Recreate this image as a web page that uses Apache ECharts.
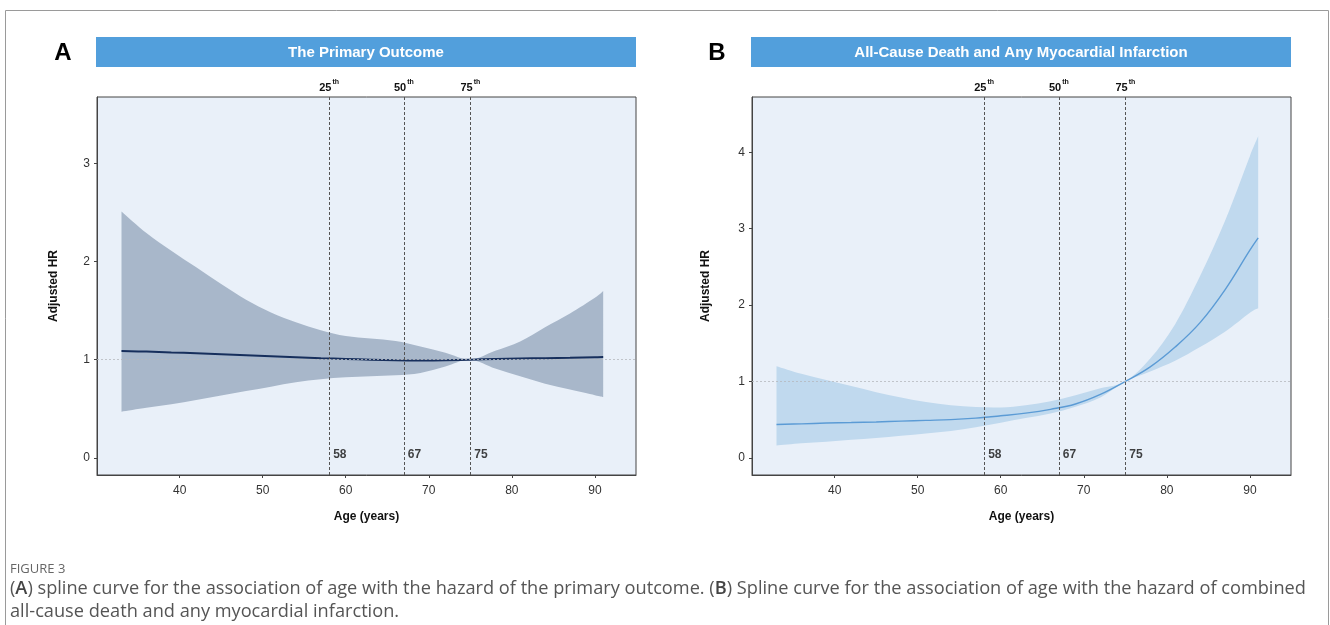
<!DOCTYPE html>
<html>
<head>
<meta charset="utf-8">
<script src="https://cdn.jsdelivr.net/npm/echarts@6/dist/echarts.min.js"></script>
<style>
html,body{margin:0;padding:0;background:#fff;}
#chart{width:1330px;height:625px;}
</style>
</head>
<body>
<div id="chart"></div>
<script>
// ---------- data ----------
const ages   = [33, 36, 39, 42, 45, 48, 51, 54, 57, 60, 63, 66, 69, 72, 75, 78, 81, 84, 87, 90, 91];
// Panel A: the primary outcome
const hrA    = [1.087, 1.082, 1.073, 1.065, 1.055, 1.045, 1.035, 1.025, 1.015, 1.007, 1.0, 0.994, 0.992, 0.994, 1.0, 1.006, 1.011, 1.015, 1.019, 1.024, 1.026];
const upperA = [2.51, 2.29, 2.11, 1.94, 1.77, 1.61, 1.48, 1.38, 1.30, 1.24, 1.215, 1.19, 1.135, 1.07, 1.00, 1.09, 1.185, 1.33, 1.47, 1.63, 1.70];
const lowerA = [0.47, 0.51, 0.545, 0.59, 0.635, 0.68, 0.725, 0.77, 0.80, 0.82, 0.83, 0.84, 0.865, 0.93, 1.00, 0.91, 0.83, 0.755, 0.695, 0.638, 0.62];
// Panel B: all-cause death and any MI
const hrB    = [0.437, 0.445, 0.455, 0.462, 0.47, 0.48, 0.49, 0.50, 0.52, 0.55, 0.585, 0.635, 0.705, 0.83, 1.00, 1.19, 1.45, 1.77, 2.20, 2.72, 2.88];
const upperB = [1.20, 1.10, 1.02, 0.94, 0.86, 0.79, 0.73, 0.69, 0.665, 0.66, 0.69, 0.74, 0.82, 0.91, 1.00, 1.30, 1.75, 2.38, 3.10, 3.95, 4.21];
const lowerB = [0.16, 0.19, 0.21, 0.235, 0.26, 0.29, 0.32, 0.35, 0.40, 0.46, 0.52, 0.58, 0.67, 0.79, 1.00, 1.13, 1.27, 1.45, 1.65, 1.90, 1.96];
// percentiles of age
const pctValues = [58, 67, 75];
const pctLabels = ['25', '50', '75'];
// ticks
const xTicks  = [40, 50, 60, 70, 80, 90];
const yTicksA = [0, 1, 2, 3];
const yTicksB = [0, 1, 2, 3, 4];
const titleA = 'The Primary Outcome';
const titleB = 'All-Cause Death and Any Myocardial Infarction';
const captionHead = 'FIGURE 3';

// ---------- chart ----------
const FONT = '"Liberation Sans", Arial, sans-serif';
const grids = [
  {left: 97, top: 97, width: 539, height: 378},
  {left: 752, top: 97, width: 539, height: 378}
];

function zip(xs, ys) { return xs.map((x, i) => [x, ys[i]]); }

function xAxis(i) {
  return {
    type: 'value', gridIndex: i, min: 30.05, max: 94.95,
    name: 'Age (years)', nameLocation: 'middle', nameGap: 36,
    nameTextStyle: {fontFamily: FONT, fontWeight: 'bold', fontSize: 12, color: '#111'},
    axisLine: {show: true, onZero: false, lineStyle: {color: '#444', width: 1}},
    axisTick: {show: true, length: 3, customValues: xTicks, lineStyle: {color: '#444'}},
    axisLabel: {customValues: xTicks, fontFamily: FONT, fontSize: 12, color: '#333', margin: 10},
    splitLine: {show: false}
  };
}
function yAxis(i, min, max, ticks, gap) {
  return {
    type: 'value', gridIndex: i, min: min, max: max,
    name: 'Adjusted HR', nameLocation: 'middle', nameGap: gap, nameRotate: 90,
    nameTextStyle: {fontFamily: FONT, fontWeight: 'bold', fontSize: 12, color: '#111'},
    axisLine: {show: true, onZero: false, lineStyle: {color: '#444', width: 1}},
    axisTick: {show: true, length: 3, customValues: ticks, lineStyle: {color: '#444'}},
    axisLabel: {customValues: ticks, fontFamily: FONT, fontSize: 12, color: '#333', margin: 7},
    splitLine: {show: false}
  };
}

// smooth path through pixel points (Catmull-Rom -> cubic Bezier)
function smoothSegs(pts, t) {
  let d = '';
  for (let i = 0; i < pts.length - 1; i++) {
    const p0 = pts[Math.max(i - 1, 0)], p1 = pts[i], p2 = pts[i + 1], p3 = pts[Math.min(i + 2, pts.length - 1)];
    const c1x = p1[0] + (p2[0] - p0[0]) * t / 6, c1y = p1[1] + (p2[1] - p0[1]) * t / 6;
    const c2x = p2[0] - (p3[0] - p1[0]) * t / 6, c2y = p2[1] - (p3[1] - p1[1]) * t / 6;
    d += ' C' + c1x + ',' + c1y + ' ' + c2x + ',' + c2y + ' ' + p2[0] + ',' + p2[1];
  }
  return d;
}

function bandSeries(i, lower, upper, color) {
  return {
    type: 'custom', xAxisIndex: i, yAxisIndex: i, silent: true, z: 1,
    clip: true,
    data: ages.map((a, k) => [a, lower[k], upper[k]]),
    renderItem: function (params, api) {
      if (params.dataIndex !== 0) return null;
      const up = ages.map((a, k) => api.coord([a, upper[k]]));
      const lo = ages.map((a, k) => api.coord([a, lower[k]])).reverse();
      let d = 'M' + up[0][0] + ',' + up[0][1] + smoothSegs(up, 1);
      d += ' L' + lo[0][0] + ',' + lo[0][1] + smoothSegs(lo, 1) + ' Z';
      return {type: 'path', shape: {pathData: d}, style: {fill: color, stroke: null}};
    }
  };
}

function panelSeries(i, lower, upper, hr, bandColor, lineColor, lineWidth) {
  const pctLines = pctValues.map((v, k) => ({
    xAxis: v,
    lineStyle: {type: [3, 2], color: '#555', width: 1},
    label: {
      show: true, position: 'end', distance: 4,
      formatter: '{n|' + pctLabels[k] + '}{s|th}',
      rich: {
        n: {fontFamily: FONT, fontSize: 11, fontWeight: 'bold', color: '#111', lineHeight: 14, verticalAlign: 'bottom'},
        s: {fontFamily: FONT, fontSize: 7, fontWeight: 'bold', color: '#111', lineHeight: 14, verticalAlign: 'top', padding: [0, 0, 0, 1]}
      }
    }
  }));
  return [
    bandSeries(i, lower, upper, bandColor),
    {
      type: 'line', xAxisIndex: i, yAxisIndex: i, smooth: 0.4,
      data: zip(ages, hr), symbol: 'none',
      lineStyle: {color: lineColor, width: lineWidth}, z: 3,
      markLine: {
        symbol: 'none', silent: true, animation: false,
        data: pctLines.concat([{
          yAxis: 1, lineStyle: {type: [2, 2], color: '#b5b9be', width: 0.8}, label: {show: false}
        }])
      }
    },
    {
      type: 'scatter', xAxisIndex: i, yAxisIndex: i, symbolSize: 0,
      data: pctValues.map(v => [v, 0]), silent: true, z: 4,
      label: {
        show: true, position: 'right', distance: 4, offset: [0, -3],
        formatter: p => String(p.value[0]),
        fontFamily: FONT, fontSize: 12, fontWeight: 'bold', color: '#111'
      }
    }
  ];
}

const chart = echarts.init(document.getElementById('chart'), null, {renderer: 'canvas'});
const option = {
  backgroundColor: '#ffffff',
  animation: false,
  grid: grids.map(g => Object.assign({
    show: true, backgroundColor: '#e9f0f9', borderColor: '#444', borderWidth: 1, containLabel: false
  }, g)),
  xAxis: [xAxis(0), xAxis(1)],
  yAxis: [yAxis(0, -0.175, 3.675, yTicksA, 37), yAxis(1, -0.225, 4.725, yTicksB, 40)],
  series: []
    .concat(panelSeries(0, lowerA, upperA, hrA, '#a8b7ca', '#172f5c', 2))
    .concat(panelSeries(1, lowerB, upperB, hrB, '#c0d9ee', '#5b9bd5', 1.4)),
  graphic: [
    {type: 'rect', silent: true, shape: {x: 5.5, y: 10.5, width: 1323, height: 700},
     style: {fill: null, stroke: '#9a9a9a', lineWidth: 1}},
    // title bars
    {type: 'rect', silent: true, shape: {x: 96, y: 37, width: 540, height: 30}, style: {fill: '#529fdc'}},
    {type: 'rect', silent: true, shape: {x: 751, y: 37, width: 540, height: 30}, style: {fill: '#529fdc'}},
    {type: 'text', silent: true, x: 366, y: 53, style: {text: titleA, fill: '#fff', font: 'bold 15px ' + FONT, textAlign: 'center', textVerticalAlign: 'middle'}},
    {type: 'text', silent: true, x: 1021, y: 53, style: {text: titleB, fill: '#fff', font: 'bold 15px ' + FONT, textAlign: 'center', textVerticalAlign: 'middle'}},
    // panel letters
    {type: 'text', silent: true, x: 63, y: 53, style: {text: 'A', fill: '#000', font: 'bold 24px ' + FONT, textAlign: 'center', textVerticalAlign: 'middle'}},
    {type: 'text', silent: true, x: 717, y: 53, style: {text: 'B', fill: '#000', font: 'bold 24px ' + FONT, textAlign: 'center', textVerticalAlign: 'middle'}},
    // caption
    {type: 'text', silent: true, x: 10, y: 569, style: {text: captionHead, fill: '#666', font: '13px "Open Sans", sans-serif', textVerticalAlign: 'middle'}},
    {type: 'text', silent: true, x: 10, y: 577, style: {
      text: '{p|(}{b|A}{p|) spline curve for the association of age with the hazard of the primary outcome. (}{b|B}{p|) Spline curve for the association of age with the hazard of combined}\n{p|all-cause death and any myocardial infarction.}',
      rich: {
        p: {fill: '#555', font: '18.2px "Open Sans", sans-serif', lineHeight: 23},
        b: {fill: '#444', font: '600 18.2px "Open Sans", sans-serif', lineHeight: 23}
      }
    }}
  ]
};
chart.setOption(option);
</script>
</body>
</html>
